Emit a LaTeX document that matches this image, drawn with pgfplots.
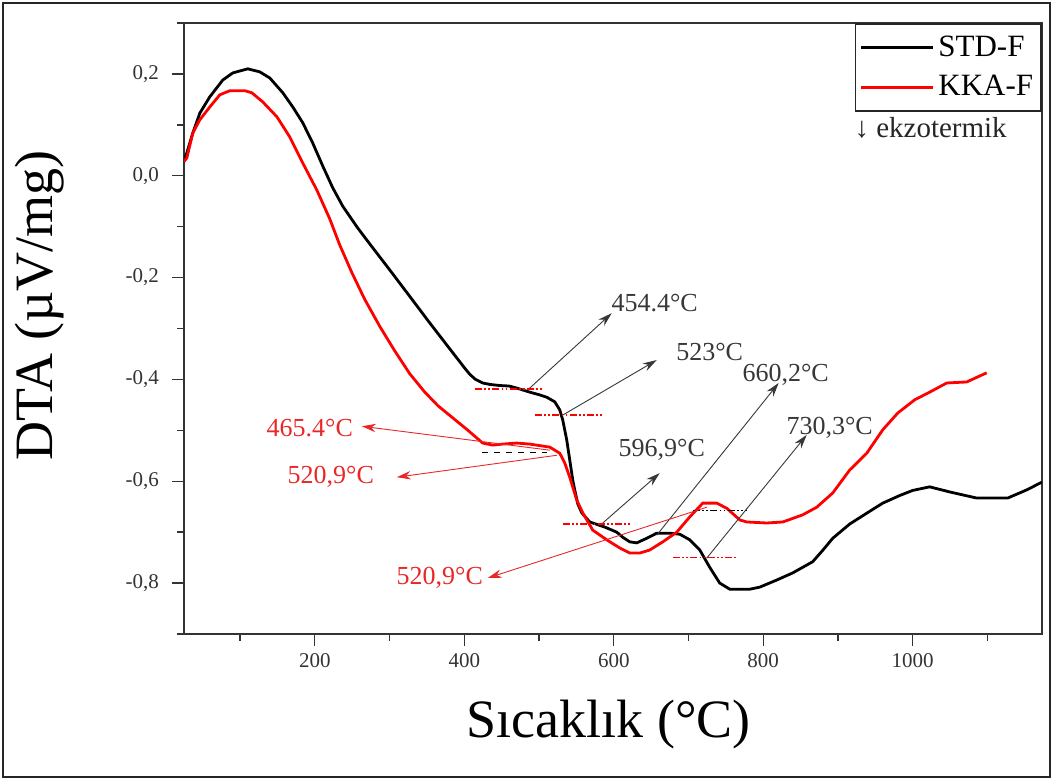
\documentclass[border=0pt]{standalone}
\usepackage{fontspec}
\setmainfont{Liberation Serif}
\usepackage{pgfplots}
\pgfplotsset{compat=1.18}
\usetikzlibrary{arrows.meta}
\definecolor{annred}{RGB}{232,40,40}
\definecolor{anngray}{RGB}{55,55,55}
\newcommand{\annfont}{\fontsize{13}{15}\selectfont}
\tikzset{
  annarrow/.style={line width=0.45pt, -{Stealth[length=7pt,width=4.2pt]}},
  ddot/.style={line width=0.6pt, dash pattern=on 3.5pt off 1.2pt on 0.8pt off 1.2pt on 0.8pt off 1.2pt},
}
\begin{document}
\begin{tikzpicture}
\begin{axis}[
  scale only axis, width=429pt, height=305.5pt,
  xmin=25, xmax=1173, ymin=-0.9, ymax=0.3,
  axis line style={line width=0.9pt, black!80},
  tick align=outside, tick pos=left,
  xtick={200,400,600,800,1000}, minor xtick={100,300,500,700,900,1100},
  ytick={-0.8,-0.6,-0.4,-0.2,0,0.2}, minor ytick={-0.9,-0.7,-0.5,-0.3,-0.1,0.1,0.3},
  major tick length=6pt, minor tick length=3.5pt,
  every tick/.style={line width=0.7pt, black!80},
  tick label style={font=\fontsize{10.5}{12}\selectfont, black!80},
  x tick label style={/pgf/number format/.cd, fixed, precision=0, 1000 sep={}, assume math mode=true},
  y tick label style={/pgf/number format/.cd, fixed, fixed zerofill, precision=1, use comma, assume math mode=true, /tikz/xshift=-3pt},
  xlabel={Sıcaklık (°C)}, ylabel={DTA (µV/mg)},
  label style={font=\fontsize{27}{32}\selectfont},
  xlabel style={at={([yshift=-45.5pt]rel axis cs:0.495,0)}, anchor=center},
  ylabel style={at={([xshift=-72pt]rel axis cs:0,0.538)}, anchor=center},
  legend style={at={(rel axis cs:1,1)}, anchor=north east, draw=black!85, line width=0.9pt,
    fill=white, font=\fontsize{15.5}{17}\selectfont, inner xsep=2pt, inner ysep=4pt, row sep=4pt,
    /tikz/every even column/.append style={column sep=2pt}},
  legend cell align=left,
  legend image code/.code={\draw[#1] (0pt,0pt) -- (36pt,0pt);},
]
\addplot[black, line width=1.4pt] coordinates {
(25,0.028) (28.8,0.045) (36.8,0.084) (46.2,0.123) (59.5,0.155) (76.9,0.188) (90.3,0.202) (110.4,0.210)
(126.4,0.204) (139.8,0.192) (157.2,0.163) (170.6,0.135) (183.9,0.104) (197.3,0.064) (210.7,0.019)
(224.1,-0.024) (237.5,-0.060) (256.2,-0.100) (273.6,-0.134) (300.3,-0.185) (327.1,-0.237) (353.8,-0.289)
(380.6,-0.340) (400.7,-0.378) (407.4,-0.390) (415,-0.400) (424.7,-0.407) (435,-0.410) (447.5,-0.412)
(460,-0.413) (470.2,-0.417) (487.6,-0.425) (500,-0.430) (510.4,-0.435) (521.1,-0.444) (527.8,-0.460)
(531.8,-0.480) (537.1,-0.519) (541.1,-0.558) (545.2,-0.598) (547.8,-0.617) (552,-0.645) (557.2,-0.662)
(567.9,-0.680) (588.0,-0.690) (604.0,-0.700) (612,-0.710) (621.4,-0.719) (630.8,-0.721) (644.1,-0.712)
(657.5,-0.702) (674.9,-0.702) (688.3,-0.704) (701.7,-0.715) (715.1,-0.735) (728.4,-0.769) (741.8,-0.800)
(755.2,-0.812) (782.0,-0.812) (795.3,-0.808) (818.1,-0.794) (839.5,-0.780) (866.2,-0.758) (880,-0.735)
(893.0,-0.712) (915.7,-0.684) (942.5,-0.659) (959.9,-0.643) (982.6,-0.628) (1000,-0.618) (1022.7,-0.611)
(1049.5,-0.621) (1085.6,-0.633) (1127.1,-0.633) (1152.5,-0.617) (1172.6,-0.602)
};
\addplot[red, line width=1.4pt] coordinates {
(25,0.028) (28.8,0.035) (36.8,0.084) (46.2,0.110) (59.5,0.135) (72.9,0.159) (86.3,0.167) (106.4,0.167)
(115.7,0.163) (130.4,0.145) (149.2,0.116) (166.6,0.076) (183.9,0.025) (202.7,-0.028) (220.1,-0.085)
(233.4,-0.136) (249.5,-0.190) (266.9,-0.243) (287.0,-0.296) (307.0,-0.344) (327.1,-0.389) (347.2,-0.425)
(365,-0.452) (385,-0.476) (403.3,-0.498) (424.7,-0.525) (438.1,-0.529) (451.5,-0.527) (470.2,-0.525) (487.6,-0.527)
(514.4,-0.533) (527.8,-0.545) (534.4,-0.564) (541.1,-0.592) (550.5,-0.637) (558.5,-0.662) (571.9,-0.696)
(590.6,-0.715) (608.0,-0.731) (621.4,-0.741) (634.8,-0.741) (648.2,-0.735) (665.6,-0.719) (684.3,-0.700)
(701.7,-0.670) (719.1,-0.643) (737.8,-0.643) (751.2,-0.653) (768.6,-0.676) (778.0,-0.680) (804.7,-0.682)
(826.1,-0.680) (852.8,-0.666) (871.6,-0.651) (893.0,-0.623) (915.7,-0.578) (938.5,-0.545) (959.9,-0.499)
(980.0,-0.466) (1002.7,-0.440) (1022.7,-0.425) (1045.5,-0.407) (1072.2,-0.405) (1099.0,-0.387)
};
\legend{STD-F, KKA-F}
% reference lines
\draw[red, ddot] (axis cs:414.0,-0.419) -- (axis cs:505.0,-0.419);
\draw[red, ddot] (axis cs:494.3,-0.470) -- (axis cs:585.3,-0.470);
\draw[red, ddot] (axis cs:531.8,-0.684) -- (axis cs:621.4,-0.684);
\draw[black, ddot] (axis cs:705.7,-0.657) -- (axis cs:777.9,-0.657);
\draw[red, ddot] (axis cs:678.9,-0.749) -- (axis cs:765.9,-0.749);
\draw[black, line width=0.6pt, dashed] (axis cs:423.4,-0.543) -- (axis cs:510.4,-0.543);
% black annotations
\draw[anngray, annarrow] (axis cs:487.6,-0.417) -- (axis cs:597.3,-0.270);
\node[anngray, font=\annfont] at (axis cs:654.8,-0.250) {454.4°C};
\draw[anngray, annarrow] (axis cs:531.8,-0.470) -- (axis cs:657.5,-0.362);
\node[anngray, font=\annfont] at (axis cs:728.4,-0.346) {523°C};
\draw[anngray, annarrow] (axis cs:585.3,-0.682) -- (axis cs:661.5,-0.584);
\node[anngray, font=\annfont] at (axis cs:664.2,-0.539) {596,9°C};
\draw[anngray, annarrow] (axis cs:657.5,-0.706) -- (axis cs:820.7,-0.407);
\node[anngray, font=\annfont] at (axis cs:830.0,-0.391) {660,2°C};
\draw[anngray, annarrow] (axis cs:724.4,-0.751) -- (axis cs:858.2,-0.509);
\node[anngray, font=\annfont] at (axis cs:888.9,-0.495) {730,3°C};
% red annotations
\draw[annred, annarrow] (axis cs:514.4,-0.539) -- (axis cs:262.9,-0.492);
\node[annred, font=\annfont] at (axis cs:193.3,-0.495) {465.4°C};
\draw[annred, annarrow] (axis cs:523.7,-0.549) -- (axis cs:309.7,-0.592);
\node[annred, font=\annfont] at (axis cs:221.4,-0.592) {520,9°C};
\draw[annred, annarrow] (axis cs:724.4,-0.651) -- (axis cs:431.4,-0.790);
\node[annred, font=\annfont] at (axis cs:367.2,-0.790) {520,9°C};
\node[anchor=west, font=\fontsize{14.5}{16}\selectfont, black!85, inner sep=0pt] at (rel axis cs:0.781,0.828) {↓ ekzotermik};
\coordinate (O) at (rel axis cs:0,0);
\end{axis}
\draw[line width=1.2pt, black!85] ([shift={(-90.5pt,-71.5pt)}]O) rectangle ([shift={(433pt,315.5pt)}]O);
\pgfresetboundingbox
\path ([shift={(-92pt,-73pt)}]O) rectangle ([shift={(435pt,317pt)}]O);
\end{tikzpicture}
\end{document}
